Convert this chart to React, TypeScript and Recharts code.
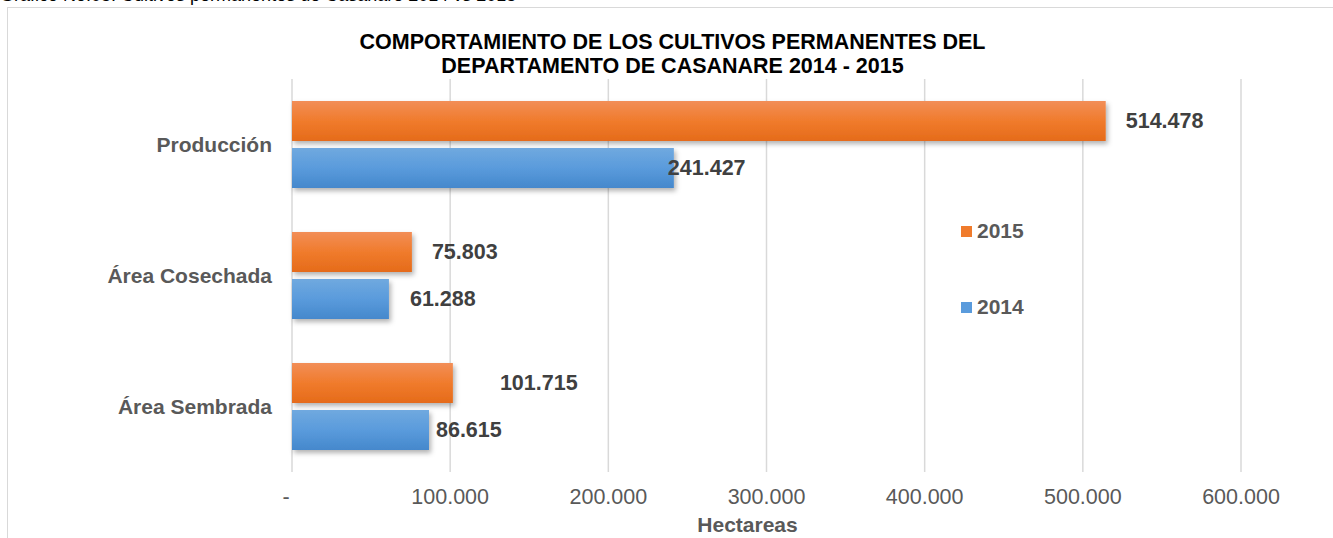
import { Bar, BarChart, CartesianGrid, LabelList, XAxis, YAxis } from "recharts";

const categorias = ["Producción", "Área Cosechada", "Área Sembrada"];
const valores2015 = [514478, 75803, 101715];
const valores2014 = [241427, 61288, 86615];
const ticksX = [0, 100000, 200000, 300000, 400000, 500000, 600000];
const series = [
  { key: "y2015", name: "2015", color: "#f07b2c", grad: "gNaranja" },
  { key: "y2014", name: "2014", color: "#5a9bdc", grad: "gAzul" },
];

// desplazamiento manual de las etiquetas, como en el original
const nudges: Record<string, number[]> = {
  y2015: [20, 20, 47],
  y2014: [-6, 21, 7],
};

const data = categorias.map((c, i) => ({ cat: c, y2015: valores2015[i], y2014: valores2014[i] }));

const FONT = "'Liberation Sans', Arial, sans-serif";

function fmtMiles(v: number): string {
  if (v === 0) return "-";
  return String(v).replace(/\B(?=(\d{3})+(?!\d))/g, ".");
}

function makeLabel(n: number[]) {
  return (props: any) => {
    const { x, y, width, height, value, index } = props;
    return (
      <text
        x={x + width + n[index]}
        y={y + height / 2}
        dominantBaseline="central"
        textAnchor="start"
        fontFamily={FONT}
        fontSize={21.5}
        fontWeight="bold"
        fill="#404040"
      >
        {fmtMiles(value)}
      </text>
    );
  };
}

function XTick(props: any) {
  const { x, y, payload } = props;
  const v = payload.value as number;
  return (
    <text
      x={v === 0 ? x - 6 : x}
      y={y}
      dy={24}
      textAnchor="middle"
      fontFamily={FONT}
      fontSize={21.5}
      fill="#595959"
    >
      {fmtMiles(v)}
    </text>
  );
}

export default function App() {
  return (
    <div
      style={{
        position: "absolute",
        left: 0,
        top: 0,
        width: 1333,
        height: 538,
        overflow: "hidden",
        background: "#fff",
        fontFamily: FONT,
      }}
    >
      <div style={{ position: "absolute", left: 0, top: -15, fontSize: 18, color: "#000", whiteSpace: "nowrap" }}>
        Gráfico No.05: Cultivos permanentes de Casanare 2014 vs 2015
      </div>
      <div
        style={{
          position: "absolute",
          left: 7,
          top: 7,
          width: 1400,
          height: 600,
          border: "1.5px solid #d9d9d9",
        }}
      />
      <div
        style={{
          position: "absolute",
          left: 0,
          top: 30,
          width: 1333,
          textAlign: "center",
          paddingLeft: 12,
          boxSizing: "border-box",
          fontWeight: "bold",
          fontSize: 21.5,
          lineHeight: "24px",
          color: "#000",
          whiteSpace: "nowrap",
        }}
      >
        COMPORTAMIENTO DE LOS CULTIVOS PERMANENTES DEL
        <br />
        DEPARTAMENTO DE CASANARE 2014 - 2015
      </div>
      <div style={{ position: "absolute", left: 0, top: 0 }}>
        <BarChart
          width={1333}
          height={538}
          data={data}
          layout="vertical"
          margin={{ top: 79, right: 92, left: 0, bottom: 0 }}
          barSize={40}
          barGap={7}
        >
          <defs>
            <linearGradient id="gNaranja" x1="0" y1="0" x2="0" y2="1">
              <stop offset="0%" stopColor="#f28e57" />
              <stop offset="50%" stopColor="#f07b2c" />
              <stop offset="100%" stopColor="#e56b1a" />
            </linearGradient>
            <linearGradient id="gAzul" x1="0" y1="0" x2="0" y2="1">
              <stop offset="0%" stopColor="#70a9df" />
              <stop offset="50%" stopColor="#5a9bdc" />
              <stop offset="100%" stopColor="#4588cc" />
            </linearGradient>
            <filter id="sombra" x="-5%" y="-20%" width="115%" height="160%">
              <feDropShadow dx="2" dy="3" stdDeviation="2.5" floodColor="#000" floodOpacity="0.3" />
            </filter>
          </defs>
          <CartesianGrid horizontal={false} stroke="#d9d9d9" strokeWidth={1.5} />
          <XAxis
            type="number"
            domain={[0, 600000]}
            ticks={ticksX}
            height={66}
            axisLine={false}
            tickLine={false}
            tick={<XTick />}
            label={{
              value: "Hectareas",
              position: "insideBottom",
              offset: 6,
              dx: -19,
              fontFamily: FONT,
              fontSize: 21,
              fontWeight: "bold",
              fill: "#595959",
            }}
          />
          <YAxis
            type="category"
            dataKey="cat"
            width={292}
            axisLine={false}
            tickLine={false}
            tickMargin={14}
            tick={{ fontFamily: FONT, fontSize: 21, fontWeight: "bold", fill: "#595959" }}
          />
          {series.map((s) => (
            <Bar
              key={s.key}
              dataKey={s.key}
              name={s.name}
              fill={`url(#${s.grad})`}
              filter="url(#sombra)"
              isAnimationActive={false}
            >
              <LabelList dataKey={s.key} content={makeLabel(nudges[s.key])} />
            </Bar>
          ))}
        </BarChart>
      </div>
      <div style={{ position: "absolute", left: 961, top: 218 }}>
        {series.map((s, i) => (
          <div key={s.key} style={{ display: "flex", alignItems: "center", height: 26, marginBottom: i === 0 ? 50 : 0 }}>
            <span style={{ display: "inline-block", width: 11, height: 11, background: s.color, marginRight: 5 }} />
            <span style={{ fontSize: 21, fontWeight: "bold", color: "#595959" }}>{s.name}</span>
          </div>
        ))}
      </div>
    </div>
  );
}
